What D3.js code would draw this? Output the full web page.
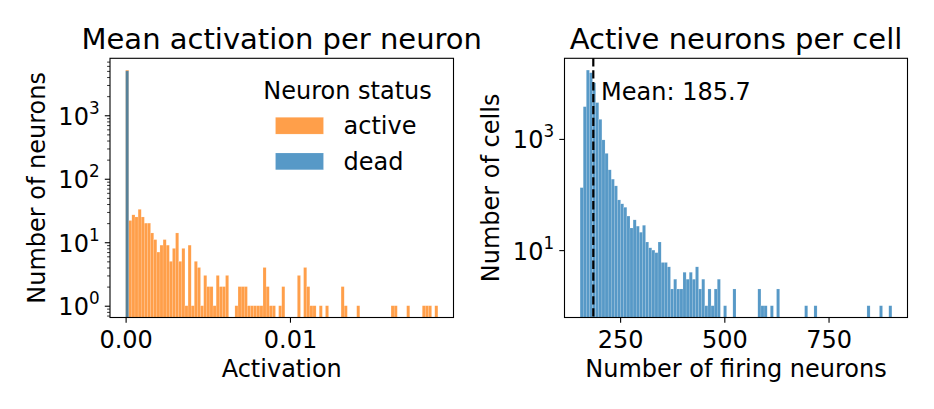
<!DOCTYPE html>
<html>
<head>
<meta charset="utf-8">
<script src="https://cdn.jsdelivr.net/npm/d3@7"></script>
<style>
  body { margin: 0; background: #fff; }
  text { font-family: "DejaVu Sans", sans-serif; fill: #000; }
</style>
</head>
<body>
<div id="chart"></div>
<script>
// ---- data ----
// left panel: mean activation per neuron, 100 equal bins between these edges
const activationRange = [0, 0.0190];
const activeCounts = [
  5150, 22, 27, 25, 33, 25, 20, 20, 14, 11,
  7, 9, 11, 9, 5, 8, 14, 5, 8, 1,
  9, 1, 5, 4, 1, 3, 2, 2, 1, 3,
  2, 2, 3, 0, 0, 1, 2, 2, 2, 1,
  1, 1, 1, 1, 4, 2, 1, 1, 0, 1,
  2, 0, 0, 0, 0, 3, 0, 4, 2, 1,
  1, 0, 1, 0, 1, 0, 0, 0, 0, 2,
  1, 0, 0, 0, 1, 0, 0, 0, 0, 0,
  0, 0, 0, 0, 0, 1, 1, 0, 0, 0,
  1, 0, 0, 0, 0, 1, 1, 1, 0, 1
];
const deadCounts = [
  5000, 0, 0, 0, 0, 0, 0, 0, 0, 0,
  0, 0, 0, 0, 0, 0, 0, 0, 0, 0,
  0, 0, 0, 0, 0, 0, 0, 0, 0, 0,
  0, 0, 0, 0, 0, 0, 0, 0, 0, 0,
  0, 0, 0, 0, 0, 0, 0, 0, 0, 0,
  0, 0, 0, 0, 0, 0, 0, 0, 0, 0,
  0, 0, 0, 0, 0, 0, 0, 0, 0, 0,
  0, 0, 0, 0, 0, 0, 0, 0, 0, 0,
  0, 0, 0, 0, 0, 0, 0, 0, 0, 0,
  0, 0, 0, 0, 0, 0, 0, 0, 0, 0
];
const statusLabels = ["active", "dead"];

// right panel: firing neurons per cell, 100 equal bins
const firingRange = [154, 902];
const cellCounts = [
  133, 3800, 17300, 15500, 10200, 4500, 2250, 960, 550, 278,
  189, 143, 80, 68, 59, 41, 25, 35, 27, 21,
  28, 14, 11, 10, 9, 14, 6, 6, 5, 2,
  3, 2, 2, 4, 3, 4, 3, 5, 2, 3,
  1, 2, 1, 2, 3, 0, 1, 0, 0, 2,
  0, 0, 0, 0, 0, 0, 0, 2, 1, 1,
  0, 1, 0, 2, 0, 0, 0, 0, 0, 0,
  0, 0, 1, 0, 0, 1, 0, 0, 0, 0,
  0, 0, 0, 0, 0, 0, 0, 0, 0, 0,
  0, 0, 1, 0, 0, 0, 1, 0, 0, 1
];
const meanFiring = 185.7;

// ticks
const leftXTicks = [0, 0.01];
const leftXTickLabels = ["0.00", "0.01"];
const leftYTicks = [1, 10, 100, 1000];
const rightXTicks = [250, 500, 750];
const rightYTicks = [10, 1000];

// ---- layout ----
const W = 934, H = 409;
const plotTop = 58.3, plotBottom = 317.5;
const leftPanel = { x0: 110, x1: 453.5 };
const rightPanel = { x0: 564.5, x1: 907.5 };
const orange = "#ff7f0e", blue = "#1f77b4";
const tickLen = 5.2, tickPad = 5.2, fs = 24;

const svg = d3.select("#chart").append("svg")
  .attr("width", W).attr("height", H);

// bins as {x0, x1, count}
function makeBins(range, counts) {
  const step = (range[1] - range[0]) / counts.length;
  return counts.map((c, i) => ({ x0: range[0] + i * step, x1: range[0] + (i + 1) * step, count: c }));
}

// matplotlib style autoscale: 5% margin (log decades for y)
function padLinear(r) {
  const m = (r[1] - r[0]) * 0.05;
  return [r[0] - m, r[1] + m];
}
function padLog(maxCount) {
  const hi = Math.log10(maxCount);
  return [Math.pow(10, -0.05 * hi), Math.pow(10, 1.05 * hi)];
}

function drawBars(g, x, y, bins, color) {
  g.selectAll(null)
    .data(bins.filter(d => d.count > 0))
    .enter().append("rect")
    .attr("x", d => x(d.x0))
    .attr("width", d => x(d.x1) - x(d.x0))
    .attr("y", d => y(d.count))
    .attr("height", d => plotBottom - y(d.count))
    .attr("fill", color)
    .attr("fill-opacity", 0.75)
    .attr("stroke", "#fff")
    .attr("stroke-opacity", 0.35)
    .attr("stroke-width", 0.4);
}

function yPowLabels(g, x0, y, ticks) {
  ticks.forEach(v => {
    const t = g.append("text")
      .attr("x", x0 - tickLen - tickPad)
      .attr("y", y(v) + 9.5)
      .attr("text-anchor", "end")
      .attr("font-size", fs);
    t.append("tspan").text("10");
    t.append("tspan")
      .attr("font-size", fs * 0.7)
      .attr("dy", -11)
      .text(String(Math.round(Math.log10(v))));
  });
}

function drawPanel(p, x, y, opts) {
  const g = svg.append("g");

  // bottom axis
  const xAxis = d3.axisBottom(x)
    .tickValues(opts.xTicks)
    .tickSize(tickLen)
    .tickPadding(tickPad)
    .tickFormat((d, i) => opts.xLabels[i]);
  const gx = g.append("g").attr("transform", `translate(0,${plotBottom})`).call(xAxis);
  gx.select(".domain").remove();
  gx.selectAll("line").attr("stroke", "#000").attr("stroke-width", 1.1);
  gx.selectAll("text").attr("font-size", fs).attr("font-family", "DejaVu Sans")
    .attr("fill", "#000").attr("dy", null).attr("y", 347.5 - plotBottom);

  // left axis, major
  const yAxis = d3.axisLeft(y).tickValues(opts.yTicks).tickSize(tickLen).tickFormat("");
  const gy = g.append("g").attr("transform", `translate(${p.x0},0)`).call(yAxis);
  gy.select(".domain").remove();
  gy.selectAll("line").attr("stroke", "#000").attr("stroke-width", 1.1);

  if (opts.minor) {
    const minorVals = y.ticks().filter(v => Math.abs(Math.log10(v) - Math.round(Math.log10(v))) > 1e-6);
    const gm = g.append("g").attr("transform", `translate(${p.x0},0)`)
      .call(d3.axisLeft(y).tickValues(minorVals).tickSize(2.9).tickFormat(""));
    gm.select(".domain").remove();
    gm.selectAll("line").attr("stroke", "#000").attr("stroke-width", 0.8);
  }
  yPowLabels(g, p.x0, y, opts.yTicks);
  return g;
}

// ---- left panel ----
const xL = d3.scaleLinear().domain(padLinear(activationRange)).range([leftPanel.x0, leftPanel.x1]);
const maxL = d3.max(activeCounts.concat(deadCounts));
const yL = d3.scaleLog().domain(padLog(maxL)).range([plotBottom, plotTop]);

const gL = svg.append("g");
drawBars(gL, xL, yL, makeBins(activationRange, activeCounts), orange);
drawBars(gL, xL, yL, makeBins(activationRange, deadCounts), blue);

drawPanel(leftPanel, xL, yL, {
  xTicks: leftXTicks, xLabels: leftXTickLabels, yTicks: leftYTicks, minor: true
});

svg.append("rect")
  .attr("x", leftPanel.x0).attr("y", plotTop)
  .attr("width", leftPanel.x1 - leftPanel.x0).attr("height", plotBottom - plotTop)
  .attr("fill", "none").attr("stroke", "#000").attr("stroke-width", 1.1);

svg.append("text").attr("x", (leftPanel.x0 + leftPanel.x1) / 2).attr("y", 48.5)
  .attr("text-anchor", "middle").attr("font-size", 29).text("Mean activation per neuron");
svg.append("text").attr("x", (leftPanel.x0 + leftPanel.x1) / 2).attr("y", 377.3)
  .attr("text-anchor", "middle").attr("font-size", fs).text("Activation");
svg.append("text").attr("transform", `translate(45,${(plotTop + plotBottom) / 2}) rotate(-90)`)
  .attr("text-anchor", "middle").attr("font-size", fs).text("Number of neurons");

// legend
const leg = svg.append("g");
leg.append("text").attr("x", 347.5).attr("y", 98.5).attr("text-anchor", "middle")
  .attr("font-size", fs).text("Neuron status");
const legColors = [orange, blue];
statusLabels.forEach((s, i) => {
  const cy = 125.7 + i * 35.7;
  leg.append("rect").attr("x", 275.5).attr("y", cy - 8.4).attr("width", 48).attr("height", 16.8)
    .attr("fill", legColors[i]).attr("fill-opacity", 0.75)
    .attr("stroke", "#fff").attr("stroke-opacity", 0.35).attr("stroke-width", 0.4);
  leg.append("text").attr("x", 343.5).attr("y", cy + 8.6).attr("font-size", fs).text(s);
});

// ---- right panel ----
const xR = d3.scaleLinear().domain(padLinear(firingRange)).range([rightPanel.x0, rightPanel.x1]);
const yR = d3.scaleLog().domain(padLog(d3.max(cellCounts))).range([plotBottom, plotTop]);

const gR = svg.append("g");
drawBars(gR, xR, yR, makeBins(firingRange, cellCounts), blue);

drawPanel(rightPanel, xR, yR, {
  xTicks: rightXTicks, xLabels: rightXTicks.map(String), yTicks: rightYTicks, minor: false
});

// mean line
svg.append("line")
  .attr("x1", xR(meanFiring)).attr("x2", xR(meanFiring))
  .attr("y1", plotTop).attr("y2", plotBottom)
  .attr("stroke", "#000").attr("stroke-width", 2.2)
  .attr("stroke-dasharray", "8.3,3.6");
svg.append("text").attr("x", xR(meanFiring * 1.1)).attr("y", yR(5000))
  .attr("font-size", fs).text("Mean: " + meanFiring.toFixed(1));

svg.append("rect")
  .attr("x", rightPanel.x0).attr("y", plotTop)
  .attr("width", rightPanel.x1 - rightPanel.x0).attr("height", plotBottom - plotTop)
  .attr("fill", "none").attr("stroke", "#000").attr("stroke-width", 1.1);

svg.append("text").attr("x", (rightPanel.x0 + rightPanel.x1) / 2).attr("y", 48.5)
  .attr("text-anchor", "middle").attr("font-size", 29).text("Active neurons per cell");
svg.append("text").attr("x", (rightPanel.x0 + rightPanel.x1) / 2).attr("y", 377.3)
  .attr("text-anchor", "middle").attr("font-size", fs).text("Number of firing neurons");
svg.append("text").attr("transform", `translate(499,${(plotTop + plotBottom) / 2}) rotate(-90)`)
  .attr("text-anchor", "middle").attr("font-size", fs).text("Number of cells");
</script>
</body>
</html>
